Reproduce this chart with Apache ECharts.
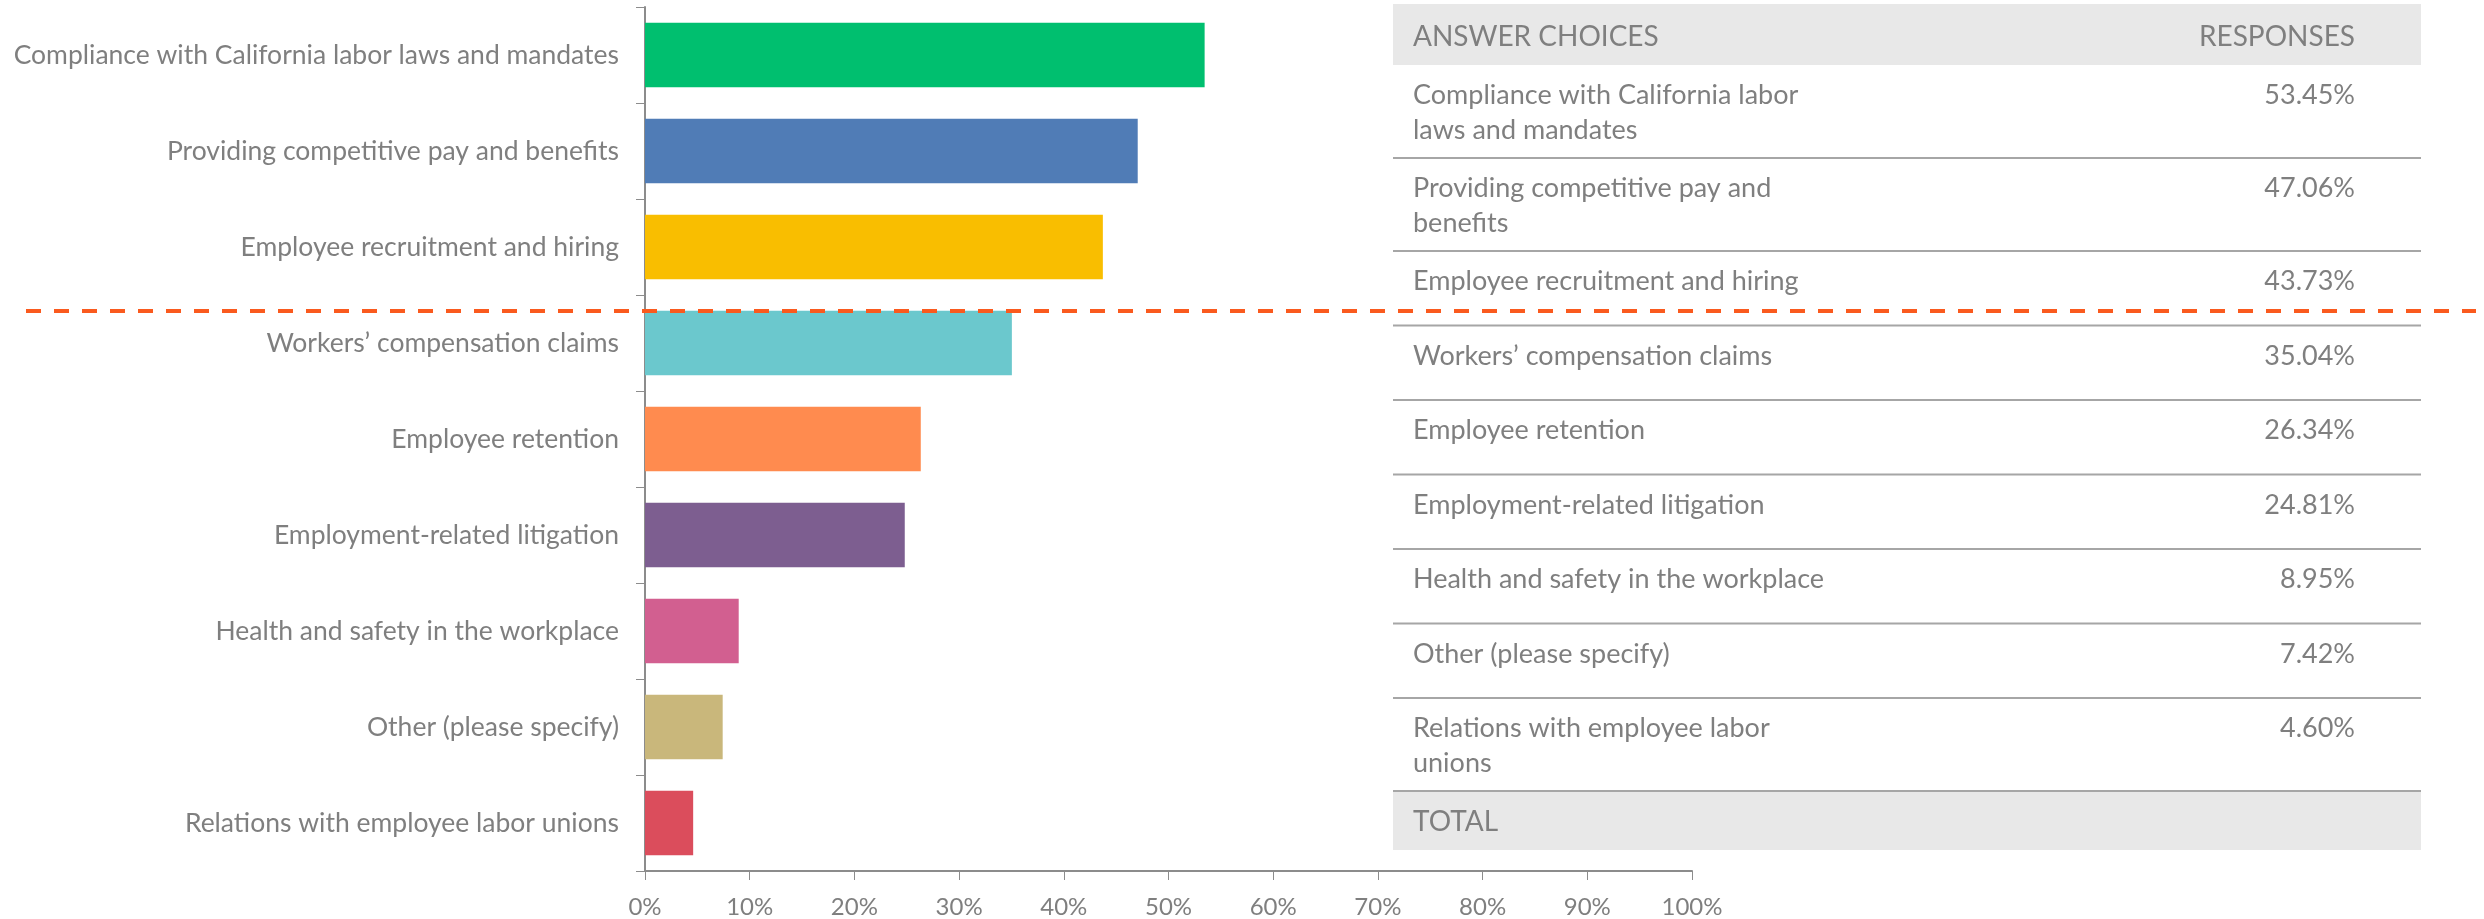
<!DOCTYPE html>
<html>
<head>
<meta charset="utf-8">
<script src="https://cdn.jsdelivr.net/npm/echarts@6/dist/echarts.min.js"></script>
<style>
  html, body { margin: 0; padding: 0; background: #fff; }
  #chart { width: 2484px; height: 919px; }
</style>
</head>
<body>
<div id="chart"></div>
<script>
// 数据
const categories = [
    'Compliance with California labor laws and mandates',
    'Providing competitive pay and benefits',
    'Employee recruitment and hiring',
    'Workers\u2019 compensation claims',
    'Employee retention',
    'Employment-related litigation',
    'Health and safety in the workplace',
    'Other (please specify)',
    'Relations with employee labor unions'
]
const values = [53.45, 47.06, 43.73, 35.04, 26.34, 24.81, 8.95, 7.42, 4.60]
const barColors = ['#00BF6F', '#507CB6', '#F9BE00', '#6BC8CD', '#FF8B4F', '#7D5E90', '#D25F90', '#C9B77B', '#DB4D5C']
// 表格里的换行文字
const tableLabels = [
    'Compliance with California labor\nlaws and mandates',
    'Providing competitive pay and\nbenefits',
    'Employee recruitment and hiring',
    'Workers\u2019 compensation claims',
    'Employee retention',
    'Employment-related litigation',
    'Health and safety in the workplace',
    'Other (please specify)',
    'Relations with employee labor\nunions'
]
const xTicks = [0, 10, 20, 30, 40, 50, 60, 70, 80, 90, 100]

const chartDom = document.getElementById('chart')
let chart = echarts.getInstanceByDom(chartDom)
if (!chart) chart = echarts.init(chartDom)

const textColor = '#7F7F7F'
const lineColor = '#A6A6A6'
const font = 'Lato'

// 表格 graphic
function buildTable() {
    const left = 1393, right = 2421
    const textX = 1413, valX = 2355
    const list = []
    // header
    list.push({ type: 'rect', shape: { x: left, y: 4, width: right - left, height: 61 }, style: { fill: '#E8E8E8' }, silent: true })
    list.push({ type: 'text', x: textX, y: 37, style: { text: 'ANSWER CHOICES', fill: textColor, font: '28px ' + font, textVerticalAlign: 'middle' } })
    list.push({ type: 'text', x: valX, y: 37, style: { text: 'RESPONSES', fill: textColor, font: '28px ' + font, textAlign: 'right', textVerticalAlign: 'middle' } })

    let y = 65
    for (let i = 0; i < tableLabels.length; i++) {
        const lines = tableLabels[i].split('\n').length
        const h = lines > 1 ? 93 : 74.5
        if (i > 0) {
            list.push({ type: 'line', shape: { x1: left, y1: y, x2: right, y2: y }, style: { stroke: lineColor, lineWidth: 2 } })
        }
        list.push({ type: 'text', x: textX, y: y + 13, style: { text: tableLabels[i], fill: textColor, font: '27px ' + font, lineHeight: 35, textVerticalAlign: 'top' } })
        list.push({ type: 'text', x: valX, y: y + 13, style: { text: values[i].toFixed(2) + '%', fill: textColor, font: '27px ' + font, lineHeight: 35, textAlign: 'right', textVerticalAlign: 'top' } })
        y += h
    }
    // total
    list.push({ type: 'rect', shape: { x: left, y: y, width: right - left, height: 59 }, style: { fill: '#E8E8E8' }, silent: true })
    list.push({ type: 'line', shape: { x1: left, y1: y, x2: right, y2: y }, style: { stroke: lineColor, lineWidth: 2 } })
    list.push({ type: 'text', x: textX, y: y + 31, style: { text: 'TOTAL', fill: textColor, font: '28px ' + font, textVerticalAlign: 'middle' } })
    return list
}

const option = {
    animation: false,
    grid: {
        left: 645,
        right: 792,
        top: 7,
        bottom: 48
    },
    xAxis: {
        type: 'value',
        min: 0,
        max: 100,
        interval: 10,
        axisLine: { show: true, lineStyle: { color: '#8C8C8C', width: 2 } },
        axisTick: { show: true, length: 9, lineStyle: { color: '#8C8C8C', width: 1 } },
        splitLine: { show: false },
        axisLabel: {
            margin: 24,
            color: textColor,
            fontFamily: font,
            fontSize: 24,
            formatter: function (v) { return xTicks.indexOf(v) >= 0 ? v + '%' : '' }
        }
    },
    yAxis: {
        type: 'category',
        inverse: true,
        data: categories,
        axisLine: { show: true, lineStyle: { color: '#8C8C8C', width: 2 } },
        axisTick: { show: true, length: 9, lineStyle: { color: '#8C8C8C', width: 1 } },
        axisLabel: {
            margin: 26,
            color: textColor,
            fontFamily: font,
            fontSize: 26.5
        }
    },
    series: [
        {
            type: 'bar',
            barCategoryGap: '33%',
            data: values.map(function (v, i) {
                return { value: v, itemStyle: { color: barColors[i] } }
            })
        }
    ],
    graphic: buildTable().concat([
        {
            type: 'line',
            z: 100,
            shape: { x1: 26, y1: 311, x2: 2476, y2: 311 },
            style: { stroke: '#FA5A1E', lineWidth: 4, lineDash: [15, 13] }
        }
    ])
}

chart.clear()
option && chart.setOption(option)

window.addEventListener('resize', function () {
    chart.resize()
})
</script>
</body>
</html>
